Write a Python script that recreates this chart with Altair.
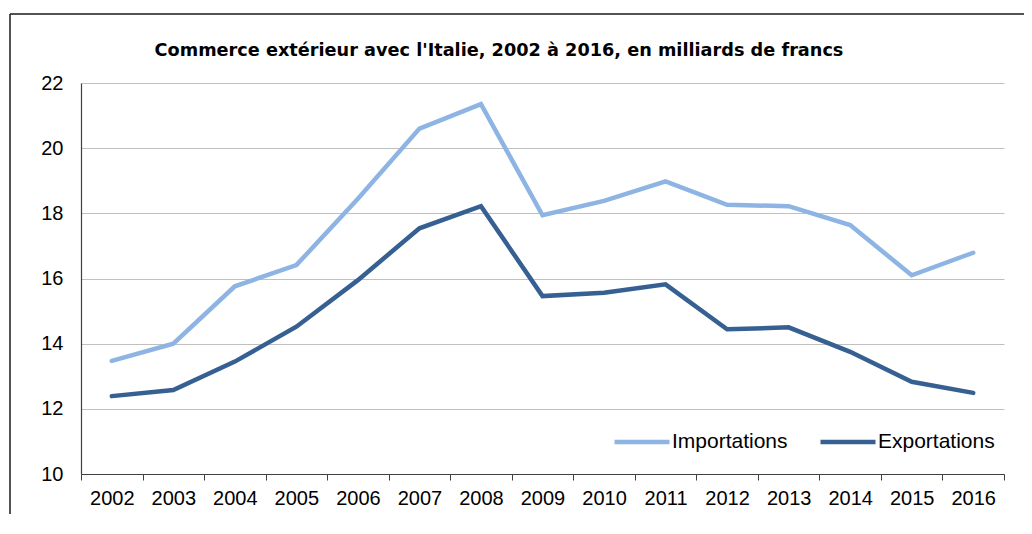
import altair as alt
import pandas as pd

years = [str(y) for y in range(2002, 2017)]
importations = [13.47, 14.00, 15.76, 16.41, 18.45, 20.60, 21.35, 17.94, 18.38, 18.98,
                18.26, 18.22, 17.64, 16.10, 16.79]
exportations = [12.39, 12.58, 13.45, 14.52, 15.95, 17.54, 18.22, 15.46, 15.56, 15.82,
                14.44, 14.50, 13.75, 12.83, 12.49]
series_names = ["Importations", "Exportations"]
series_colors = ["#8DB4E2", "#376092"]
y_ticks = [10, 12, 14, 16, 18, 20, 22]
title_text = "Commerce extérieur avec l'Italie, 2002 à 2016, en milliards de francs"

df = pd.DataFrame({
    "year": years * 2,
    "value": importations + exportations,
    "series": [series_names[0]] * len(years) + [series_names[1]] * len(years),
})

FONT = "Liberation Sans"
W, H = 923, 391

lines = alt.Chart(df).mark_line(strokeWidth=4.5, strokeCap="round").encode(
    x=alt.X("year:O", bandPosition=0.5,
            scale=alt.Scale(type="band", paddingInner=0, paddingOuter=0),
            axis=alt.Axis(title=None, labelAngle=0, tickBand="extent", tickSize=6,
                          labelPadding=8, grid=False)),
    y=alt.Y("value:Q", scale=alt.Scale(domain=[10, 22], nice=False, zero=False),
            axis=alt.Axis(title=None, values=y_ticks, tickSize=0, ticks=False,
                          labelPadding=18, grid=True)),
    color=alt.Color("series:N", sort=series_names,
                    scale=alt.Scale(domain=series_names, range=series_colors),
                    legend=alt.Legend(title=None, orient="none", direction="horizontal",
                                      legendX=531, legendY=329, symbolType="stroke",
                                      symbolSize=3025, symbolStrokeWidth=4.5,
                                      labelOffset=0, columnPadding=23, padding=0,
                                      labelFont=FONT, labelFontSize=21, labelColor="#000000")),
)

meta_df = pd.DataFrame({"k": [0]})
frame_left = alt.Chart(meta_df).mark_rule(color="#1a1a1a", strokeWidth=1.5).encode(
    x=alt.value(-71), y=alt.value(-69), y2=alt.value(460))
frame_top = alt.Chart(meta_df).mark_rule(color="#1a1a1a", strokeWidth=1.5).encode(
    x=alt.value(-71), x2=alt.value(960), y=alt.value(-69))
title = alt.Chart(meta_df).mark_text(
    font="DejaVu Sans", fontSize=17.7, fontWeight="bold", color="#000000",
    align="center", baseline="alphabetic",
).encode(x=alt.value(418), y=alt.value(-27), text=alt.value(title_text))

chart = alt.layer(frame_left, frame_top, title, lines).properties(
    width=W, height=H,
    autosize=alt.AutoSizeParams(type="none"),
    padding={"left": 73, "top": 75, "right": 20, "bottom": 40},
).configure_view(stroke=None).configure_axis(
    labelFont=FONT, labelFontSize=20, labelColor="#000000",
    domainColor="#404040", tickColor="#404040", domainWidth=1.2,
    gridColor="#C0C0C0", gridWidth=1.2,
)

chart.save("out.html", embed_options={"renderer": "svg", "actions": False})
